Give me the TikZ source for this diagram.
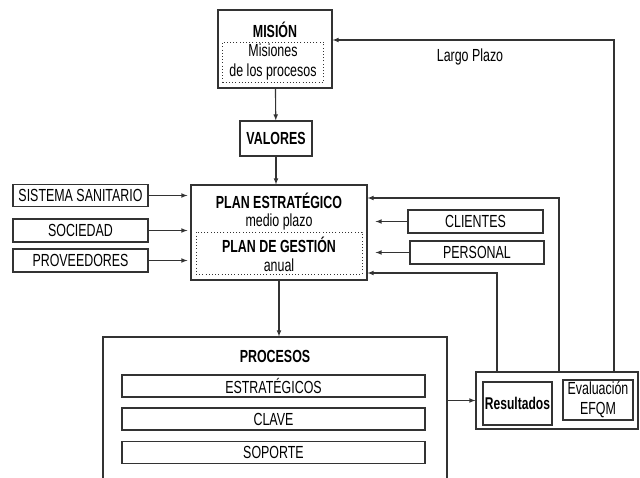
\documentclass[tikz,border=0pt]{standalone}
\usepackage{fontspec}
\setmainfont{Liberation Sans}[FakeStretch=0.71]
\usetikzlibrary{arrows}

\tikzset{
  caja/.style={draw=black!80, line width=1.1pt, inner sep=0pt, font=\fontsize{17.5}{20}\selectfont, align=center},
  punteado/.style={draw=black!80, line width=1pt, dash pattern=on 1pt off 2.2pt, inner sep=0pt, font=\fontsize{17.5}{20}\selectfont, align=center},
  titulo/.style={font=\fontsize{17.5}{20}\selectfont\bfseries, inner sep=0pt},
  texto/.style={font=\fontsize{17.5}{20}\selectfont, inner sep=0pt, align=center},
  flecha/.style={draw=black!80, line width=1.1pt, ->, >=latex},
}

\begin{document}
\begin{tikzpicture}[x=1pt, y=-1pt]
    \useasboundingbox (0,0) rectangle (640,477);

    % mision y valores
    \node[caja, minimum width=114pt, minimum height=78pt] (mision) at (275,49) {};
    \node[titulo] (misiontxt) at (275,30) {MISIÓN};
    \node[punteado, minimum width=101pt, minimum height=40pt] (misiones) at (273,62) {Misiones\\de los procesos};
    \node[caja, minimum width=72pt, minimum height=35pt, font=\fontsize{17.5}{20}\selectfont\bfseries] (valores) at (276,138.5) {VALORES};

    % plan estrategico
    \node[caja, minimum width=176pt, minimum height=95pt] (plan) at (279,232.5) {};
    \node[titulo] (plantxt) at (279,201) {PLAN ESTRATÉGICO};
    \node[texto] (medio) at (279,221.5) {medio plazo};
    \node[punteado, minimum width=166pt, minimum height=42pt] (gestion) at (279,253) {};
    \node[titulo] (gestiontxt) at (279,245) {PLAN DE GESTIÓN};
    \node[texto] (anual) at (279,265.5) {anual};

    \draw[flecha] (mision) -- (valores);
    \draw[flecha] (valores.south) -- (valores.south |- plan.north);

    % entradas
    \node[caja, minimum width=135pt, minimum height=22pt] (sistema) at (80.5,195.5) {SISTEMA SANITARIO};
    \node[caja, minimum width=135pt, minimum height=23pt] (sociedad) at (80.5,230.5) {SOCIEDAD};
    \node[caja, minimum width=135pt, minimum height=23pt] (proveedores) at (80.5,260.5) {PROVEEDORES};
    \node[caja, minimum width=135pt, minimum height=23pt] (clientes) at (475.5,221.5) {CLIENTES};
    \node[caja, minimum width=134pt, minimum height=23pt] (personal) at (477,252.5) {PERSONAL};

    \draw[flecha, shorten >=3pt] (sistema) -- (sistema -| plan.west);
    \draw[flecha, shorten >=3pt] (sociedad) -- (sociedad -| plan.west);
    \draw[flecha, shorten >=3pt] (proveedores) -- (proveedores -| plan.west);
    \draw[flecha, shorten >=8pt] (clientes) -- (clientes -| plan.east);
    \draw[flecha, shorten >=8pt] (personal) -- (personal -| plan.east);

    % procesos
    \node[caja, minimum width=344pt, minimum height=143pt] (procesos) at (275,408.5) {};
    \node[titulo] (procesostxt) at (275,356) {PROCESOS};
    \node[caja, minimum width=303pt, minimum height=22pt] (estrategicos) at (273.5,386) {ESTRATÉGICOS};
    \node[caja, minimum width=303pt, minimum height=22pt] (clave) at (273.5,419) {CLAVE};
    \node[caja, minimum width=303pt, minimum height=22pt] (soporte) at (273.5,452.5) {SOPORTE};

    \draw[flecha] (plan.south) -- (plan.south |- procesos.north);

    % resultados
    \node[caja, minimum width=162pt, minimum height=57pt] (salida) at (557,400.5) {};
    \node[caja, minimum width=69pt, minimum height=43pt, font=\fontsize{17}{20}\selectfont\bfseries] (resultados) at (517.5,403.5) {Resultados};
    \node[caja, minimum width=70pt, minimum height=40pt] (evaluacion) at (598,400) {Evaluación\\EFQM};

    \draw[flecha] (procesos.east |- salida) -- (salida.west);

    % retroalimentacion
    \coordinate (r1) at (497,273);
    \coordinate (r2) at (559,198);
    \coordinate (r3) at (614,40);
    \draw[flecha] (r1 |- salida.north) -- (r1) -- (r1 -| plan.east);
    \draw[flecha] (r2 |- salida.north) -- (r2) -- (r2 -| plan.east);
    \draw[flecha] (r3 |- salida.north) -- (r3) -- (r3 -| mision.east);
    \node[texto] (largo) at (470,57) {Largo Plazo};

\end{tikzpicture}
\end{document}
